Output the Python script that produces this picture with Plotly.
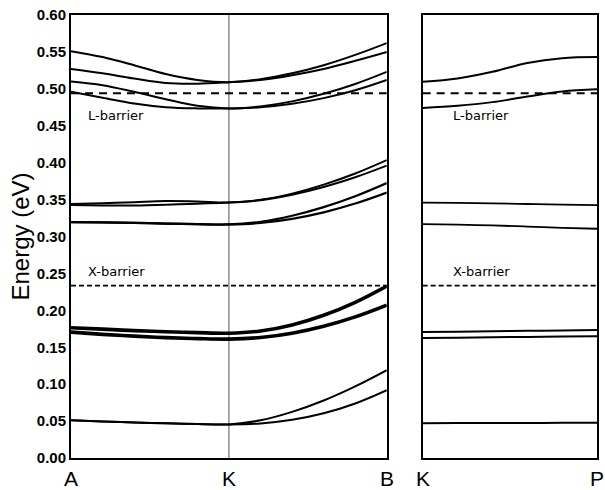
import plotly.graph_objects as go

# Wave-vector samples along A-K-B (K at the middle) and K-P
k_akb = [0, 0.1, 0.2, 0.3, 0.4, 0.5, 0.6, 0.7, 0.8, 0.9, 1.0]
k_kp = [0, 0.2, 0.4, 0.6, 0.8, 1.0]

# Subband energies (eV) along A-K-B
l1 = [0.551, 0.543, 0.532, 0.520, 0.512, 0.509, 0.513, 0.521, 0.532, 0.546, 0.562]
l2 = [0.527, 0.521, 0.514, 0.508, 0.507, 0.509, 0.512, 0.5185, 0.527, 0.538, 0.550]
l3 = [0.510, 0.505, 0.496, 0.486, 0.477, 0.4735, 0.4762, 0.483, 0.4933, 0.5066, 0.523]
l4 = [0.496, 0.488, 0.480, 0.475, 0.4735, 0.4735, 0.475, 0.4797, 0.4874, 0.4981, 0.512]
m1 = [0.344, 0.345, 0.3465, 0.348, 0.3475, 0.346, 0.3497, 0.3581, 0.3702, 0.3853, 0.4035]
m2 = [0.3425, 0.342, 0.342, 0.343, 0.3445, 0.346, 0.3492, 0.3566, 0.367, 0.3802, 0.396]
m3 = [0.3195, 0.319, 0.3185, 0.3175, 0.3167, 0.3163, 0.3199, 0.3281, 0.3398, 0.3546, 0.3724]
m4 = [0.3195, 0.319, 0.3185, 0.3175, 0.3167, 0.3163, 0.3183, 0.3239, 0.3327, 0.3446, 0.3595]
s1 = [0.1765, 0.1745, 0.1725, 0.171, 0.1698, 0.169, 0.172, 0.1802, 0.1933, 0.2109, 0.233]
s2 = [0.1705, 0.1675, 0.165, 0.163, 0.1617, 0.161, 0.1632, 0.169, 0.1784, 0.1911, 0.207]
b1 = [0.051, 0.0495, 0.048, 0.047, 0.046, 0.0455, 0.0511, 0.0625, 0.0779, 0.097, 0.119]
b2 = [0.051, 0.0495, 0.048, 0.047, 0.046, 0.0455, 0.0468, 0.0517, 0.0605, 0.0738, 0.0918]

# Subband energies (eV) along K-P
r1 = [0.5095, 0.514, 0.523, 0.535, 0.5415, 0.543]
r2 = [0.474, 0.477, 0.482, 0.4895, 0.4965, 0.4995]
r3 = [0.346, 0.3455, 0.3448, 0.344, 0.3432, 0.3425]
r4 = [0.3168, 0.316, 0.315, 0.3135, 0.3118, 0.3105]
r5 = [0.1705, 0.1711, 0.1717, 0.1722, 0.1728, 0.1733]
r6 = [0.1625, 0.163, 0.1635, 0.164, 0.1645, 0.165]
r7 = [0.0472, 0.0473, 0.0474, 0.0475, 0.0476, 0.0477]

# Barrier levels (eV)
l_barrier = 0.494
x_barrier = 0.2335

y_ticks = [0.00, 0.05, 0.10, 0.15, 0.20, 0.25, 0.30, 0.35, 0.40, 0.45, 0.50, 0.55, 0.60]
k_point_labels = ["A", "K", "B", "K", "P"]

fig = go.Figure()

left_bands = [(l1, 2), (l2, 2), (l3, 2), (l4, 2), (m1, 2), (m2, 2), (m3, 2.2), (m4, 2.2),
              (s1, 3.6), (s2, 3.6), (b1, 2), (b2, 2)]
for vals, w in left_bands:
    fig.add_trace(go.Scatter(x=k_akb, y=vals, mode="lines", line=dict(color="black", width=w, shape="spline"),
                             xaxis="x", yaxis="y", showlegend=False, hoverinfo="skip"))

right_bands = [(r1, 2), (r2, 2), (r3, 1.8), (r4, 1.8), (r5, 2), (r6, 2), (r7, 2)]
for vals, w in right_bands:
    fig.add_trace(go.Scatter(x=k_kp, y=vals, mode="lines", line=dict(color="black", width=w, shape="spline"),
                             xaxis="x2", yaxis="y2", showlegend=False, hoverinfo="skip"))

# Barrier levels as dashed lines in both panels
for xa, ya in (("x", "y"), ("x2", "y2")):
    fig.add_trace(go.Scatter(x=[0, 1], y=[l_barrier, l_barrier], mode="lines",
                             line=dict(color="black", width=2, dash="8px,6px"),
                             xaxis=xa, yaxis=ya, showlegend=False, hoverinfo="skip"))
    fig.add_trace(go.Scatter(x=[0, 1], y=[x_barrier, x_barrier], mode="lines",
                             line=dict(color="black", width=1.6, dash="5px,3px"),
                             xaxis=xa, yaxis=ya, showlegend=False, hoverinfo="skip"))

# Vertical line at K in the A-K-B panel
fig.add_shape(type="line", x0=0.5, x1=0.5, y0=0, y1=0.6, xref="x", yref="y",
              line=dict(color="#555555", width=1), layer="below")

label_font = dict(family="DejaVu Sans", size=13, color="black")
for xa, ya, x0 in (("x", "y", 0.047), ("x2", "y2", 0.16)):
    fig.add_annotation(x=x0, y=0.4635, xref=xa, yref=ya, text="L-barrier", showarrow=False,
                       xanchor="left", yanchor="middle", font=label_font)
    fig.add_annotation(x=x0, y=0.2525, xref=xa, yref=ya, text="X-barrier", showarrow=False,
                       xanchor="left", yanchor="middle", font=label_font)

# k-point labels under the panels
left_dom = [0, 0.6004]
right_dom = [0.6686, 1]
kx = [left_dom[0], (left_dom[0] + left_dom[1]) / 2, left_dom[1], right_dom[0], right_dom[1]]
for lbl, xp in zip(k_point_labels, kx):
    fig.add_annotation(x=xp, y=0, xref="paper", yref="paper", yshift=-20, text=lbl, showarrow=False,
                       xanchor="center", yanchor="middle",
                       font=dict(family="Liberation Sans", size=21, color="black"))

fig.add_annotation(x=0, y=0.5, xref="paper", yref="paper", xshift=-51, text="Energy (eV)", showarrow=False,
                   textangle=-90, xanchor="center", yanchor="middle",
                   font=dict(family="Liberation Sans", size=24, color="black"))

axis_common = dict(showgrid=False, zeroline=False, showline=True, mirror=True,
                   linecolor="black", linewidth=2)

fig.update_layout(
    width=605, height=490,
    margin=dict(l=71, r=6, t=10, b=32),
    plot_bgcolor="white", paper_bgcolor="white",
    xaxis=dict(domain=left_dom, range=[0, 1], showticklabels=False, ticks="", **axis_common),
    xaxis2=dict(domain=right_dom, range=[0, 1], showticklabels=False, ticks="", anchor="y2", **axis_common),
    yaxis=dict(range=[0, 0.6], tickvals=y_ticks, tickformat=".2f", ticks="",
               tickfont=dict(family="Liberation Sans", size=15, color="black", weight="bold"),
               ticklabelstandoff=0, **axis_common),
    yaxis2=dict(range=[0, 0.6], anchor="x2", showticklabels=False, ticks="", **axis_common),
)

fig.write_html("out.html")
